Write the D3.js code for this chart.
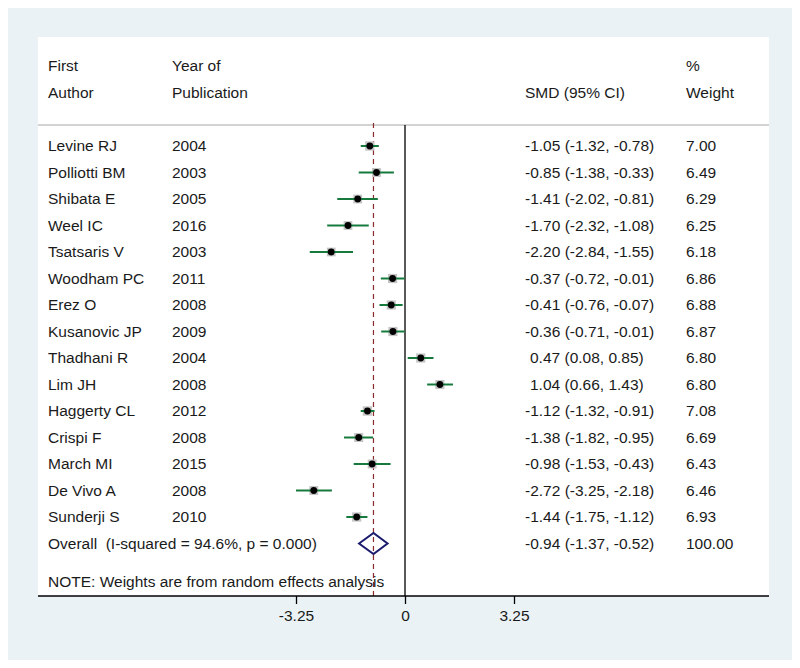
<!DOCTYPE html>
<html>
<head>
<meta charset="utf-8">
<script src="https://cdn.jsdelivr.net/npm/d3@7"></script>
<style>
html,body{margin:0;padding:0;background:#fff;}
svg{display:block;}
text{font-family:"Liberation Sans",Arial,sans-serif;fill:#1a1a1a;white-space:pre;}
</style>
</head>
<body>
<svg id="chart" width="800" height="668"></svg>
<script>
const authors = ["Levine RJ","Polliotti BM","Shibata E","Weel IC","Tsatsaris V","Woodham PC","Erez O","Kusanovic JP","Thadhani R","Lim JH","Haggerty CL","Crispi F","March MI","De Vivo A","Sunderji S"];
const years = [2004,2003,2005,2016,2003,2011,2008,2009,2004,2008,2012,2008,2015,2008,2010];
const smd = [-1.05,-0.85,-1.41,-1.70,-2.20,-0.37,-0.41,-0.36,0.47,1.04,-1.12,-1.38,-0.98,-2.72,-1.44];
const lower = [-1.32,-1.38,-2.02,-2.32,-2.84,-0.72,-0.76,-0.71,0.08,0.66,-1.32,-1.82,-1.53,-3.25,-1.75];
const upper = [-0.78,-0.33,-0.81,-1.08,-1.55,-0.01,-0.07,-0.01,0.85,1.43,-0.91,-0.95,-0.43,-2.18,-1.12];
const weights = [7.00,6.49,6.29,6.25,6.18,6.86,6.88,6.87,6.80,6.80,7.08,6.69,6.43,6.46,6.93];
const overall = {label:"Overall  (I-squared = 94.6%, p = 0.000)", smd:-0.94, lower:-1.37, upper:-0.52, weight:"100.00"};
const tickValues = [-3.25, 0, 3.25];
const tickLabels = ["-3.25", "0", "3.25"];
const note = "NOTE: Weights are from random effects analysis";

(function(){
const svg = d3.select("#chart");
const FS = 15.5;

svg.append("rect").attr("x",8).attr("y",8).attr("width",784).attr("height",652).attr("fill","#eaf2f5");
svg.append("rect").attr("x",38).attr("y",37).attr("width",731).attr("height",559).attr("fill","#ffffff");

const x = d3.scaleLinear().domain([-3.25, 3.25]).range([296, 514]);
const y = d3.scaleLinear().domain([0, 15]).range([146, 543.5]);
const yTop = 125, yBottom = 596;

const f2 = d3.format(".2f");
const fmt = v => f2(v).replace("\u2212","-");
const colAuthor = 48, colYear = 172, colSmd = 525, colW = 686;

const hdr = svg.append("g").attr("font-size", FS);
[["First",colAuthor,66],["Author",colAuthor,93],["Year of",colYear,66],["Publication",colYear,93],
 ["SMD (95% CI)",colSmd,93],["%",colW,66],["Weight",colW,93]].forEach(([t,xx,yy])=>{
  hdr.append("text").attr("x",xx).attr("y",yy).attr("dy","0.35em").text(t);
});
svg.append("line").attr("x1",38).attr("x2",769).attr("y1",yTop).attr("y2",yTop)
  .attr("stroke","#a8a8a8").attr("stroke-width",1.2);

svg.append("line").attr("x1",x(0)).attr("x2",x(0)).attr("y1",yTop).attr("y2",yBottom)
  .attr("stroke","#000").attr("stroke-width",1.3);
svg.append("line").attr("x1",x(overall.smd)).attr("x2",x(overall.smd)).attr("y1",yTop-2).attr("y2",yBottom)
  .attr("stroke","#8b2a2a").attr("stroke-width",1.2).attr("stroke-dasharray","5,4");

const rows = svg.append("g");
const data = authors.map((a,i)=>({a, yr:years[i], s:smd[i], lo:lower[i], hi:upper[i], w:weights[i], i}));
const g = rows.selectAll("g.row").data(data).join("g").attr("class","row");
g.append("text").attr("x",colAuthor).attr("y",d=>y(d.i)).attr("dy","0.35em").attr("font-size",FS).text(d=>d.a);
g.append("text").attr("x",colYear).attr("y",d=>y(d.i)).attr("dy","0.35em").attr("font-size",FS).text(d=>d.yr);
g.append("text").attr("x",d=>d.s<0?colSmd:colSmd+5).attr("y",d=>y(d.i)).attr("dy","0.35em").attr("font-size",FS)
  .text(d=>`${fmt(d.s)} (${fmt(d.lo)}, ${fmt(d.hi)})`);
g.append("text").attr("x",colW).attr("y",d=>y(d.i)).attr("dy","0.35em").attr("font-size",FS).text(d=>fmt(d.w));
const side = d=>3.5*Math.sqrt(d.w);
g.append("rect").attr("x",d=>x(d.s)-side(d)/2).attr("y",d=>y(d.i)-side(d)/2)
  .attr("width",side).attr("height",side).attr("fill","#c4c4c4");
g.append("line").attr("x1",d=>x(d.lo)).attr("x2",d=>x(d.hi)).attr("y1",d=>y(d.i)).attr("y2",d=>y(d.i))
  .attr("stroke","#167a3c").attr("stroke-width",2);
g.append("circle").attr("cx",d=>x(d.s)).attr("cy",d=>y(d.i)).attr("r",3.4).attr("fill","#000");

const yo = y(15);
svg.append("text").attr("x",colAuthor).attr("y",yo).attr("dy","0.35em").attr("font-size",FS).text(overall.label);
svg.append("text").attr("x",colSmd).attr("y",yo).attr("dy","0.35em").attr("font-size",FS)
  .text(`${fmt(overall.smd)} (${fmt(overall.lower)}, ${fmt(overall.upper)})`);
svg.append("text").attr("x",colW).attr("y",yo).attr("dy","0.35em").attr("font-size",FS).text(overall.weight);
svg.append("path")
  .attr("d",`M${x(overall.lower)},${yo} L${x(overall.smd)},${yo-10.5} L${x(overall.upper)},${yo} L${x(overall.smd)},${yo+10.5} Z`)
  .attr("fill","none").attr("stroke","#1c1c6e").attr("stroke-width",2).attr("stroke-linejoin","miter");

svg.append("text").attr("x",colAuthor).attr("y",582).attr("dy","0.35em").attr("font-size",FS).text(note);

const axis = d3.axisBottom(x).tickValues(tickValues).tickFormat((d,i)=>tickLabels[i]).tickSize(8).tickPadding(6);
const ax = svg.append("g").attr("transform",`translate(0,${yBottom})`).call(axis);
ax.select(".domain").remove();
ax.selectAll(".tick line").attr("stroke","#000").attr("stroke-width",1.3);
ax.selectAll(".tick text").attr("font-size",FS).attr("font-family","Liberation Sans, Arial, sans-serif").attr("fill","#1a1a1a");
svg.append("line").attr("x1",38).attr("x2",769).attr("y1",yBottom).attr("y2",yBottom)
  .attr("stroke","#000").attr("stroke-width",1.5);
})();
</script>
</body>
</html>
